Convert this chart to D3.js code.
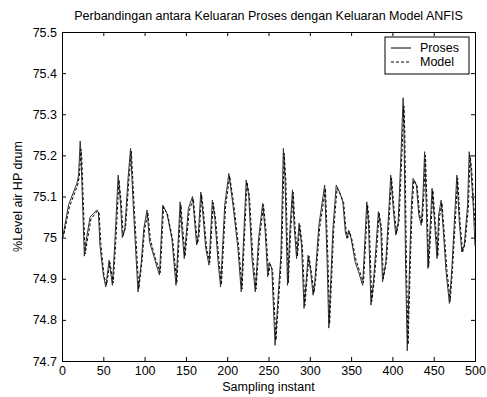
<!DOCTYPE html>
<html>
<head>
<meta charset="utf-8">
<script src="https://cdn.jsdelivr.net/npm/d3@7"></script>
<style>
  body { margin: 0; background: #fff; }
  text { font-family: Arial, "Liberation Sans", sans-serif; font-size: 12.5px; fill: #000; }
</style>
</head>
<body>
<div id="chart"></div>
<script>
// sample index / value pairs
const prosesX = [0,1,8,18,20,22,23,27,29,34,42,44,46,50,53,57,61,64,68,71,73,76,80,83,86,90,92,96,99,103,106,112,118,122,127,133,138,143,145,148,153,158,163,165,168,170,174,178,182,185,189,192,197,202,207,213,217,223,226,230,234,238,243,246,249,251,254,258,262,265,268,270,273,276,279,281,284,287,290,293,298,301,304,306,311,318,321,323,328,332,336,340,343,345,347,350,355,359,364,369,371,374,377,380,383,386,388,392,396,398,401,404,407,410,413,414,416,418,421,423,425,429,432,435,437,439,441,443,446,448,451,454,456,459,462,465,469,472,475,478,481,484,487,491,493,495,498,500];
const prosesY = [75.000,75.002,75.080,75.132,75.150,75.235,75.200,74.955,74.990,75.050,75.067,75.063,74.980,74.910,74.880,74.945,74.884,74.990,75.152,75.079,75.000,75.020,75.145,75.217,75.087,74.940,74.868,74.940,75.022,75.067,74.990,74.949,74.909,75.079,75.059,74.998,74.884,75.087,75.023,74.949,75.071,75.100,74.982,75.006,75.111,75.071,74.974,74.933,75.091,75.047,74.940,74.880,75.079,75.156,75.079,74.974,74.868,75.140,75.103,74.949,74.868,74.998,75.083,75.014,74.905,74.940,74.925,74.738,74.868,74.957,75.217,75.144,74.884,75.022,75.116,75.030,74.949,75.035,74.982,74.828,74.957,74.917,74.860,74.892,75.030,75.128,74.940,74.780,75.022,75.128,75.111,75.087,75.014,74.998,75.018,74.998,74.940,74.917,74.884,75.087,75.038,74.836,74.892,74.974,75.063,75.022,74.892,74.940,75.079,75.152,75.071,75.006,75.038,75.184,75.340,75.274,74.925,74.725,74.950,75.079,75.144,75.128,75.055,75.030,75.103,75.209,75.079,74.925,75.038,75.120,75.038,74.949,75.055,75.091,75.006,74.917,74.840,74.925,75.038,75.152,75.038,74.965,74.982,75.079,75.209,75.168,75.071,74.980];

const modelX = [0,2,9,19,21,23,24,28,30,35,43,45,47,51,54,58,62,65,69,72,74,77,81,84,87,91,93,97,100,104,107,113,119,123,128,134,139,144,146,149,154,159,164,166,169,171,175,179,183,186,190,193,198,203,208,214,218,224,227,231,235,239,244,247,250,252,255,259,263,266,269,271,274,277,280,282,285,288,291,294,299,302,305,307,312,319,322,324,329,333,337,341,344,346,348,351,356,360,365,370,372,375,378,381,384,387,389,393,397,399,402,405,408,411,414,415,417,419,422,424,426,430,433,436,438,440,442,444,447,449,452,455,457,460,463,466,470,473,476,479,482,485,488,492,494,496,499,500];
const modelY = [74.998,75.005,75.075,75.128,75.150,75.215,75.190,74.960,74.985,75.045,75.065,75.060,74.985,74.905,74.885,74.940,74.890,74.985,75.140,75.080,75.005,75.025,75.140,75.210,75.090,74.945,74.875,74.945,75.020,75.060,74.995,74.950,74.915,75.075,75.055,74.995,74.890,75.080,75.025,74.955,75.065,75.095,74.985,75.005,75.105,75.070,74.975,74.940,75.085,75.045,74.945,74.885,75.075,75.150,75.080,74.975,74.875,75.135,75.100,74.955,74.875,74.995,75.080,75.015,74.910,74.935,74.920,74.750,74.870,74.960,75.205,75.140,74.890,75.020,75.110,75.030,74.955,75.030,74.980,74.835,74.955,74.915,74.865,74.895,75.025,75.120,74.945,74.790,75.020,75.120,75.105,75.085,75.015,75.000,75.015,74.995,74.945,74.920,74.890,75.080,75.035,74.845,74.895,74.970,75.060,75.020,74.900,74.945,75.075,75.145,75.070,75.010,75.040,75.180,75.320,75.260,74.930,74.740,74.960,75.075,75.140,75.125,75.055,75.035,75.100,75.200,75.075,74.930,75.035,75.115,75.035,74.955,75.050,75.085,75.005,74.920,74.845,74.930,75.035,75.145,75.035,74.965,74.985,75.075,75.200,75.165,75.065,75.030];

const xTicks = [0,50,100,150,200,250,300,350,400,450,500];
const yTicks = [74.7,74.8,74.9,75,75.1,75.2,75.3,75.4,75.5];

const width = 487, height = 397;
const margin = { top: 32, right: 12, bottom: 36, left: 62 };
const plotW = width - margin.left - margin.right;
const plotH = height - margin.top - margin.bottom;

const svg = d3.select('#chart').append('svg')
  .attr('width', width)
  .attr('height', height);

svg.append('rect').attr('width', width).attr('height', height).attr('fill', '#fff');

const x = d3.scaleLinear().domain([0, 500]).range([0, plotW]);
const y = d3.scaleLinear().domain([74.7, 75.5]).range([plotH, 0]);

const chart = svg.append('g')
  .attr('transform', 'translate(' + margin.left + ',' + margin.top + ')');

// axes: ticks inward on all four sides, MATLAB style
const tickLen = 4;
chart.append('g')
  .attr('transform', 'translate(0,' + plotH + ')')
  .call(d3.axisBottom(x).tickValues(xTicks).tickSize(-tickLen).tickPadding(5).tickFormat(d3.format('d')));
chart.append('g')
  .call(d3.axisTop(x).tickValues(xTicks).tickSize(-tickLen).tickFormat(''));
chart.append('g')
  .call(d3.axisLeft(y).tickValues(yTicks).tickSize(-tickLen).tickPadding(5).tickFormat(d => d3.format('')(+d.toFixed(1))));
chart.append('g')
  .attr('transform', 'translate(' + plotW + ',0)')
  .call(d3.axisRight(y).tickValues(yTicks).tickSize(-tickLen).tickFormat(''));

chart.selectAll('.domain').attr('stroke', '#000');
chart.selectAll('.tick line').attr('stroke', '#000');
chart.selectAll('.tick text')
  .style('font-family', 'Arial, "Liberation Sans", sans-serif')
  .style('font-size', '12.5px')
  .attr('fill', '#000');

const line = d3.line()
  .x(d => x(d[0]))
  .y(d => y(d[1]));

const proses = prosesX.map((v, i) => [v, prosesY[i]]);
const model = modelX.map((v, i) => [v, modelY[i]]);

chart.append('path')
  .datum(proses)
  .attr('d', line)
  .attr('fill', 'none')
  .attr('stroke', '#333')
  .attr('stroke-width', 1);

chart.append('path')
  .datum(model)
  .attr('d', line)
  .attr('fill', 'none')
  .attr('stroke', '#000')
  .attr('stroke-width', 1)
  .attr('stroke-dasharray', '3,2');

// legend
const legend = chart.append('g')
  .attr('transform', 'translate(' + (plotW - 90) + ',5)');
legend.append('rect')
  .attr('width', 84).attr('height', 37)
  .attr('fill', '#fff').attr('stroke', '#000');
const items = [['Proses', null], ['Model', '3,2']];
items.forEach((it, i) => {
  const row = legend.append('g').attr('transform', 'translate(0,' + (11 + i * 14) + ')');
  row.append('line')
    .attr('x1', 6).attr('x2', 26)
    .attr('stroke', '#000')
    .attr('stroke-dasharray', it[1]);
  row.append('text')
    .attr('x', 35).attr('dy', '0.35em')
    .text(it[0]);
});

// titles
svg.append('text')
  .attr('x', margin.left + plotW / 2).attr('y', 20)
  .attr('text-anchor', 'middle')
  .text('Perbandingan antara Keluaran Proses dengan Keluaran Model ANFIS');
svg.append('text')
  .attr('x', margin.left + plotW / 2).attr('y', 391)
  .attr('text-anchor', 'middle')
  .text('Sampling instant');
svg.append('text')
  .attr('transform', 'translate(22,' + (margin.top + plotH / 2) + ') rotate(-90)')
  .attr('text-anchor', 'middle')
  .text('%Level air HP drum');
</script>
</body>
</html>
